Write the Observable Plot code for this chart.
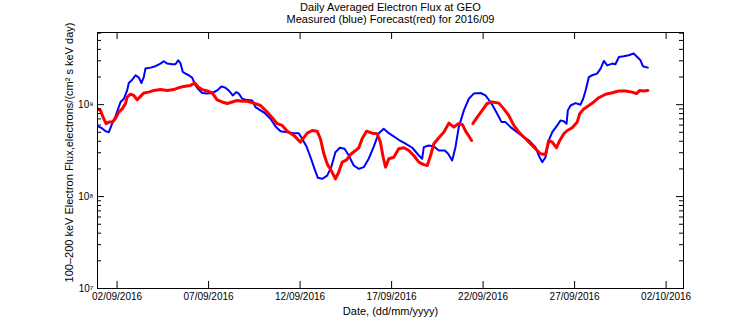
<!DOCTYPE html>
<html><head><meta charset="utf-8">
<script src="https://cdn.jsdelivr.net/npm/d3@7"></script>
<script src="https://cdn.jsdelivr.net/npm/@observablehq/plot@0.6"></script>
<style>
body{margin:0;background:#fff}
svg{font-family:"Liberation Sans",Arial,Helvetica,sans-serif}
</style></head><body><div id="chart"></div>
<script>
// Day of September 2016 (decimal; 32 = 2 Oct)
const measuredDays = [
0.97,1.19,1.37,1.55,1.73,1.91,2.19,2.37,2.55,2.64,
2.83,3.01,3.19,3.33,3.46,3.55,3.83,4.10,4.37,4.55,
4.74,5.01,5.19,5.34,5.46,5.59,5.74,5.92,6.10,6.28,
6.46,6.65,6.92,7.20,7.47,7.70,7.92,8.10,8.32,8.51,
8.65,8.84,9.02,9.38,9.56,9.84,10.11,10.38,10.66,10.93,
11.30,11.66,11.93,12.11,12.35,12.57,12.79,12.97,13.21,13.48,
13.70,13.93,14.17,14.43,14.66,14.93,15.21,15.48,15.75,16.03,
16.30,16.57,16.85,17.03,17.39,17.76,18.13,18.49,18.67,18.76,
19.03,19.31,19.58,19.91,20.09,20.31,20.49,20.67,20.95,21.22,
21.49,21.86,22.13,22.46,22.77,23.01,23.22,23.50,23.86,24.22,
24.50,24.86,25.04,25.23,25.41,25.59,25.78,26.05,26.23,26.41,
26.56,26.63,26.78,27.05,27.32,27.47,27.60,27.78,27.96,28.23,
28.42,28.60,28.78,29.06,29.23,29.42,29.69,29.96,30.23,30.42,
30.60,30.73,30.87,31.00];
const measuredFlux = [
5.8e8,5.51e8,5.15e8,5.02e8,6.21e8,7.45e8,1.07e9,1.16e9,1.43e9,1.72e9,
1.87e9,2.09e9,1.97e9,1.72e9,2.00e9,2.47e9,2.53e9,2.62e9,2.80e9,2.97e9,
2.80e9,2.75e9,2.75e9,3.04e9,2.84e9,2.27e9,2.18e9,2.09e9,1.97e9,1.62e9,
1.46e9,1.34e9,1.32e9,1.34e9,1.43e9,1.58e9,1.53e9,1.43e9,1.26e9,1.37e9,
1.32e9,1.16e9,1.13e9,1.11e9,9.4e8,8.67e8,7.98e8,7.04e8,5.80e8,5.15e8,
5.02e8,4.90e8,4.90e8,4.26e8,3.51e8,2.68e8,2.00e8,1.60e8,1.56e8,1.69e8,
2.09e8,3.04e8,3.40e8,3.31e8,2.80e8,2.18e8,2.00e8,2.09e8,2.58e8,3.51e8,
4.90e8,5.47e8,4.90e8,4.63e8,4.15e8,3.76e8,3.40e8,2.80e8,2.58e8,3.45e8,
3.60e8,3.51e8,3.17e8,3.17e8,2.92e8,2.47e8,3.45e8,5.70e8,8.67e8,1.16e9,
1.32e9,1.34e9,1.26e9,1.03e9,7.98e8,6.46e8,6.46e8,5.70e8,5.02e8,4.43e8,
4.08e8,3.45e8,2.80e8,2.37e8,2.68e8,4.08e8,5.02e8,5.95e8,6.74e8,6.62e8,
6.21e8,8.67e8,9.8e8,1.04e9,1.0e9,1.16e9,1.43e9,2.00e9,2.09e9,2.18e9,
2.47e9,2.99e9,2.68e9,2.80e9,2.75e9,3.30e9,3.36e9,3.45e9,3.60e9,3.30e9,
3.04e9,2.62e9,2.57e9,2.53e9];

const forecastDays = [
0.94,1.09,1.27,1.40,1.55,1.73,1.91,2.09,2.28,2.46,
2.55,2.73,2.91,3.10,3.28,3.46,3.73,4.01,4.37,4.74,
5.10,5.37,5.64,6.01,6.25,6.43,6.65,6.92,7.20,7.47,
7.74,8.02,8.29,8.56,8.84,9.11,9.47,9.84,10.20,10.48,
10.75,11.02,11.30,11.66,12.02,12.20,12.39,12.66,12.93,13.11,
13.30,13.48,13.70,13.93,14.11,14.30,14.54,14.75,15.03,15.21,
15.39,15.63,15.94,16.21,16.39,16.54,16.67,16.85,17.12,17.39,
17.67,17.94,18.21,18.49,18.76,18.95,19.13,19.31,19.58,19.85,
20.13,20.40,20.64,20.86,21.08,21.26,21.37,21.40,21.44,21.68,
21.95,22.22,22.50,22.86,23.13,23.40,23.68,23.95,24.32,24.68,
24.86,25.14,25.41,25.59,25.78,26.01,26.19,26.41,26.60,26.87,
27.14,27.28,27.50,27.78,28.05,28.32,28.69,29.06,29.42,29.78,
30.15,30.38,30.56,30.78,31.00];
const forecastFlux = [
9.0e8,8.67e8,7.04e8,6.21e8,6.46e8,6.46e8,7.04e8,8.3e8,9.0e8,1.03e9,
1.21e9,1.30e9,1.26e9,1.13e9,1.23e9,1.34e9,1.37e9,1.43e9,1.46e9,1.43e9,
1.46e9,1.53e9,1.58e9,1.62e9,1.72e9,1.56e9,1.46e9,1.41e9,1.34e9,1.13e9,
1.07e9,1.03e9,1.07e9,1.11e9,1.09e9,1.09e9,1.04e9,9.8e8,8.3e8,7.21e8,
6.21e8,5.95e8,5.15e8,4.63e8,3.91e8,4.37e8,4.90e8,5.24e8,5.15e8,4.26e8,
2.92e8,2.27e8,1.92e8,1.56e8,1.84e8,2.37e8,2.51e8,2.87e8,3.17e8,3.40e8,
4.26e8,5.15e8,4.90e8,4.83e8,3.91e8,2.68e8,2.09e8,2.58e8,2.68e8,3.31e8,
3.40e8,3.17e8,2.80e8,2.37e8,2.23e8,2.18e8,2.80e8,3.76e8,4.37e8,5.02e8,
6.30e8,5.70e8,6.21e8,6.10e8,5.02e8,4.43e8,4.08e8,null,6.21e8,7.32e8,
8.67e8,1.03e9,1.07e9,1.04e9,9.0e8,7.64e8,5.95e8,5.02e8,4.26e8,3.60e8,
3.31e8,2.92e8,2.87e8,4.08e8,3.91e8,3.40e8,4.08e8,4.83e8,5.24e8,5.61e8,
6.46e8,7.98e8,9.0e8,9.8e8,1.07e9,1.19e9,1.30e9,1.35e9,1.41e9,1.41e9,
1.37e9,1.32e9,1.43e9,1.41e9,1.43e9];

const xTickDays = [2, 7, 12, 17, 22, 27, 32];
const xTickLabels = ["02/09/2016","07/09/2016","12/09/2016","17/09/2016","22/09/2016","27/09/2016","02/10/2016"];
const yMajorTicks = [1e7, 1e8, 1e9];
const yTickLabels = ["10\u2077", "10\u2078", "10\u2079"];
const yMinorTicks = [2e7,3e7,4e7,5e7,6e7,7e7,8e7,9e7,2e8,3e8,4e8,5e8,6e8,7e8,8e8,9e8,2e9,3e9,4e9,5e9,6e9];
const titleLine1 = "Daily Averaged Electron Flux at GEO";
const titleLine2 = "Measured (blue) Forecast(red) for 2016/09";
const xLabel = "Date, (dd/mm/yyyy)";
const yLabel = "100\u2013200 keV Electron Flux,electrons/(cm\u00b2 s keV day)";

const toDate = d => new Date(Date.UTC(2016, 8, 1) + (d - 1) * 864e5);
const measured = measuredDays.map((d, i) => ({date: toDate(d), flux: measuredFlux[i]}));
const forecast = forecastDays.map((d, i) => ({date: toDate(d), flux: forecastFlux[i]}));
const xTicks = xTickDays.map(toDate);

const W = 756, H = 324, mL = 97, mR = 73, mT = 32, mB = 36;
const fw = W - mL - mR, fh = H - mT - mB;
const majorLen = 7, minorLen = 4;

const chart = Plot.plot({
  width: W, height: H,
  marginLeft: mL, marginRight: mR, marginTop: mT, marginBottom: mB,
  style: {fontFamily: "'Liberation Sans', Arial, Helvetica, sans-serif", fontSize: "10px", background: "#fff", color: "#000"},
  x: {type: "utc", domain: [toDate(0.93), toDate(32.95)]},
  y: {type: "log", domain: [1e7, 6.1e9]},
  marks: [
    Plot.line(measured, {x: "date", y: "flux", stroke: "#0000ff", strokeWidth: 2, clip: true}),
    Plot.line(forecast, {x: "date", y: "flux", stroke: "#ff0000", strokeWidth: 3, clip: true}),
    Plot.frame({stroke: "#000", strokeWidth: 1}),
    Plot.ruleX(xTicks, {x: d => d, insetTop: fh - majorLen, stroke: "#000", strokeWidth: 1}),
    Plot.ruleX(xTicks, {x: d => d, insetBottom: fh - majorLen, stroke: "#000", strokeWidth: 1}),
    Plot.ruleY(yMajorTicks, {y: d => d, insetRight: fw - majorLen, stroke: "#000", strokeWidth: 1}),
    Plot.ruleY(yMajorTicks, {y: d => d, insetLeft: fw - majorLen, stroke: "#000", strokeWidth: 1}),
    Plot.ruleY(yMinorTicks, {y: d => d, insetRight: fw - minorLen, stroke: "#000", strokeWidth: 1}),
    Plot.ruleY(yMinorTicks, {y: d => d, insetLeft: fw - minorLen, stroke: "#000", strokeWidth: 1}),
    Plot.axisX(xTicks, {tickSize: 0, tickPadding: 4, label: null, fontSize: 10,
      tickFormat: d => xTickLabels[xTicks.findIndex(t => +t === +d)]}),
    Plot.axisY(yMajorTicks, {tickSize: 0, tickPadding: 4, label: null, fontSize: 10,
      tickFormat: d => yTickLabels[yMajorTicks.indexOf(d)]}),
    Plot.text([titleLine1], {frameAnchor: "top", dy: -25, fontSize: 11, lineAnchor: "middle"}),
    Plot.text([titleLine2], {frameAnchor: "top", dy: -13, fontSize: 11, lineAnchor: "middle"}),
    Plot.text([xLabel], {frameAnchor: "bottom", dy: 23, fontSize: 11, lineAnchor: "middle"}),
    Plot.text([yLabel], {frameAnchor: "left", dx: -28, dy: -8, rotate: -90, fontSize: 11, textAnchor: "middle", lineAnchor: "middle"})
  ]
});
document.getElementById("chart").appendChild(chart);
</script></body></html>
